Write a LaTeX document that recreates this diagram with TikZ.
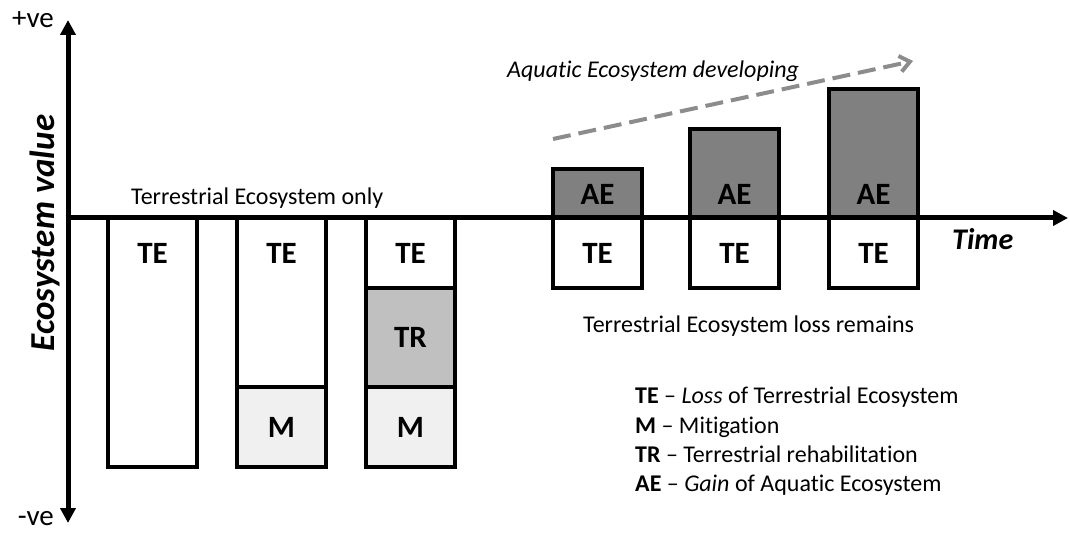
\documentclass[tikz,border=0pt]{standalone}
\usepackage{fontspec}
\setmainfont[RawFeature={-liga;-clig;-calt}]{Carlito}
\usetikzlibrary{arrows.meta}
\definecolor{aegray}{HTML}{808080}
\definecolor{trgray}{HTML}{C0C0C0}
\definecolor{mgray}{HTML}{F0F0F0}
\definecolor{dashgray}{HTML}{8C8C8C}
\newcommand{\fs}[1]{\fontsize{#1}{#1}\selectfont}
\tikzset{
  seg/.style={draw=black, line width=4pt, minimum width=89pt, anchor=north west, inner sep=0pt, outer sep=0pt},
  lab/.style={font=\fs{31}\bfseries, inner sep=0pt},
  txt/.style={font=\fs{24}, inner sep=0pt, anchor=base west},
  axis/.style={line width=5pt, -{Triangle[width=15pt,length=15pt]}},
}
\begin{document}
\begin{tikzpicture}[x=1pt,y=-1pt]
\useasboundingbox (0,0) rectangle (1070,537);
% left boxes
\node[seg, minimum height=249pt] (b1) at (108,218) {};
\node[seg, minimum height=169pt] (b2te) at (237,218) {};
\node[seg, minimum height=80pt, fill=mgray] (b2m) at (237,387) {};
\node[seg, minimum height=70pt] (b3te) at (366,218) {};
\node[seg, minimum height=99pt, fill=trgray] (b3tr) at (366,288) {};
\node[seg, minimum height=80pt, fill=mgray] (b3m) at (366,387) {};
% right boxes
\node[seg, minimum height=49pt, fill=aegray] (b4ae) at (553,169) {};
\node[seg, minimum height=70pt] (b4te) at (553,218) {};
\node[seg, minimum height=89pt, fill=aegray] (b5ae) at (690,129) {};
\node[seg, minimum height=70pt] (b5te) at (690,218) {};
\node[seg, minimum height=129pt, fill=aegray] (b6ae) at (829,89) {};
\node[seg, minimum height=70pt] (b6te) at (829,218) {};
% labels
\node[lab] (l1) at (b1.north |- 0,253) {TE};
\node[lab] (l2) at (b2te.north |- 0,253) {TE};
\node[lab] (l3) at (b3te.north |- 0,253) {TE};
\node[lab] at (b2m) {M};
\node[lab] at (b3m) {M};
\node[lab] at (b3tr) {TR};
\node[lab] at (b4te) {TE};
\node[lab] at (b5te) {TE};
\node[lab] at (b6te) {TE};
\node[lab] at (b4ae.north |- 0,194) {AE};
\node[lab] at (b5ae.north |- 0,194) {AE};
\node[lab] at (b6ae.north |- 0,194) {AE};
% axes
\coordinate (o) at (68,218);
\coordinate (top) at (68,20);
\coordinate (bot) at (68,523);
\coordinate (right) at (1068,218);
\draw[axis] (o) -- (top);
\draw[axis] (o) -- (bot);
\draw[axis] ([xshift=-2.5pt]o) -- (right);
\node[font=\fs{29}, inner sep=0pt, anchor=east] (pve) at (54,20) {+ve};
\node[font=\fs{29}, inner sep=0pt, anchor=east] (nve) at (54,519) {-ve};
\node[font=\fs{35}\bfseries\itshape, inner sep=0pt, rotate=90] (yl) at (45,233) {Ecosystem value};
\node[font=\fs{30}\bfseries\itshape, inner sep=0pt, anchor=base west] (xl) at (952,250) {Time};
% texts
\node[txt] (teo) at (131,205) {Terrestrial Ecosystem only};
\node[txt] (telr) at (583,332) {Terrestrial Ecosystem loss remains};
\node[txt, font=\fs{24}\itshape] (aed) at (507,78) {Aquatic Ecosystem developing};
% dashed arrow
\coordinate (ds) at (553,139);
\coordinate (de) at (913,61);
\draw[dashgray, line width=4pt, dash pattern=on 18pt off 8pt, -{Straight Barb[length=10pt,width=16pt,line width=4pt]}] (ds) -- (de);
% legend
\node[txt] (lg1) at (635,403) {\textbf{TE} -- \textit{Loss} of Terrestrial Ecosystem};
\node[txt] (lg2) at (635,433) {\textbf{M} -- Mitigation};
\node[txt] (lg3) at (635,462) {\textbf{TR} -- Terrestrial rehabilitation};
\node[txt] (lg4) at (635,491) {\textbf{AE} -- \textit{Gain} of Aquatic Ecosystem};
\end{tikzpicture}
\end{document}
